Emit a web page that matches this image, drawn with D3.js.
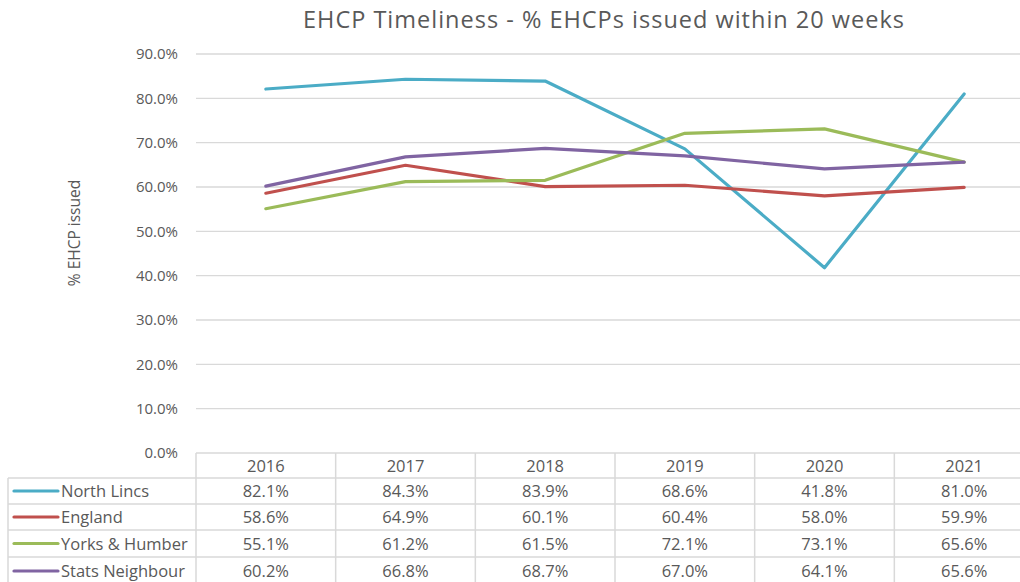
<!DOCTYPE html>
<html><head><meta charset="utf-8">
<script src="https://cdn.jsdelivr.net/npm/d3@7"></script>
<style>body{margin:0;background:#fff;}svg{display:block;}</style>
</head><body>
<svg id="c" width="1020" height="582"></svg>
<script>
const years = ["2016","2017","2018","2019","2020","2021"];
const seriesNames = ["North Lincs","England","Yorks & Humber","Stats Neighbour"];
const northLincs = [82.1,84.3,83.9,68.6,41.8,81.0];
const england = [58.6,64.9,60.1,60.4,58.0,59.9];
const yorksHumber = [55.1,61.2,61.5,72.1,73.1,65.6];
const statsNeighbour = [60.2,66.8,68.7,67.0,64.1,65.6];
const yTicks = [0,10,20,30,40,50,60,70,80,90];
const colors = ["#4BACC6","#C0504D","#9BBB59","#8064A2"];

const series = [northLincs, england, yorksHumber, statsNeighbour];
const svg = d3.select("#c");
const font = "'Open Sans', sans-serif";
const textCol = "#595959";
const gridCol = "#d9d9d9";

const plotL = 196, plotR = 1034, plotT = 54, plotB = 453;
const x = d3.scaleBand().domain(years).range([plotL, plotR]);
const y = d3.scaleLinear().domain([0,90]).range([plotB, plotT]);

// title
svg.append("text").attr("x", 604).attr("y", 28).attr("text-anchor","middle")
  .attr("font-family", font).attr("font-size", 23.5).attr("letter-spacing", 1).attr("fill", textCol)
  .text("EHCP Timeliness - % EHCPs issued within 20 weeks");

// gridlines
svg.append("g").selectAll("line").data(yTicks.filter(d=>d>0)).join("line")
  .attr("x1", plotL).attr("x2", plotR).attr("y1", d=>y(d)).attr("y2", d=>y(d))
  .attr("stroke", gridCol).attr("stroke-width", 1.3);

// y axis labels
const yAxis = d3.axisLeft(y).tickValues(yTicks).tickSize(0).tickPadding(0)
  .tickFormat(d => d.toFixed(1) + "%");
const ga = svg.append("g").attr("transform", `translate(178,0)`).call(yAxis);
ga.select(".domain").remove();
ga.selectAll("text").attr("font-family", font).attr("font-size", 15).attr("fill", textCol);

// y title
svg.append("text").attr("transform","translate(80,233) rotate(-90)").attr("text-anchor","middle")
  .attr("font-family", font).attr("font-size", 15.5).attr("fill", textCol).text("% EHCP issued");

// lines
const line = d3.line().x((d,i)=>x(years[i]) + x.bandwidth()/2).y(d=>y(d));
svg.append("g").selectAll("path").data(series).join("path")
  .attr("d", line).attr("fill","none").attr("stroke",(d,i)=>colors[i])
  .attr("stroke-width", 3.2).attr("stroke-linejoin","round").attr("stroke-linecap","round");

// data table
const rowEdges = [plotB, 478, 504, 530, 557, 585];
const tg = svg.append("g");
const fs = 16.5;
tg.append("line").attr("x1", plotL).attr("x2", plotR).attr("y1", rowEdges[0]).attr("y2", rowEdges[0])
  .attr("stroke", gridCol).attr("stroke-width", 1.5);
rowEdges.slice(1,5).forEach(e => {
  tg.append("line").attr("x1", 8).attr("x2", plotR).attr("y1", e).attr("y2", e)
    .attr("stroke", gridCol).attr("stroke-width", 1.5);
});
years.forEach(yr => {
  tg.append("line").attr("x1", x(yr)).attr("x2", x(yr)).attr("y1", rowEdges[0]).attr("y2", 582)
    .attr("stroke", gridCol).attr("stroke-width", 1.5);
});
tg.append("line").attr("x1", 8).attr("x2", 8).attr("y1", rowEdges[1]).attr("y2", 582)
  .attr("stroke", gridCol).attr("stroke-width", 1.5);

tg.selectAll("text.h").data(years).join("text").attr("class","h")
  .attr("x", d=>x(d)+x.bandwidth()/2).attr("y", (rowEdges[0]+rowEdges[1])/2 + 6)
  .attr("text-anchor","middle").attr("font-family", font).attr("font-size", fs).attr("fill", textCol)
  .text(d=>d);

series.forEach((s, r) => {
  const cy = (rowEdges[r+1] + rowEdges[r+2]) / 2;
  tg.append("line").attr("x1", 14).attr("x2", 58).attr("y1", cy).attr("y2", cy)
    .attr("stroke", colors[r]).attr("stroke-width", 3.2).attr("stroke-linecap","round");
  tg.append("text").attr("x", 61).attr("y", cy + 6).attr("font-family", font).attr("font-size", fs)
    .attr("fill", textCol).text(seriesNames[r]);
  tg.selectAll(null).data(s).join("text")
    .attr("x", (d,i)=>x(years[i]) + x.bandwidth()/2).attr("y", cy + 6)
    .attr("text-anchor","middle").attr("font-family", font).attr("font-size", fs).attr("fill", textCol)
    .text(d=>d.toFixed(1) + "%");
});
</script>
</body></html>
